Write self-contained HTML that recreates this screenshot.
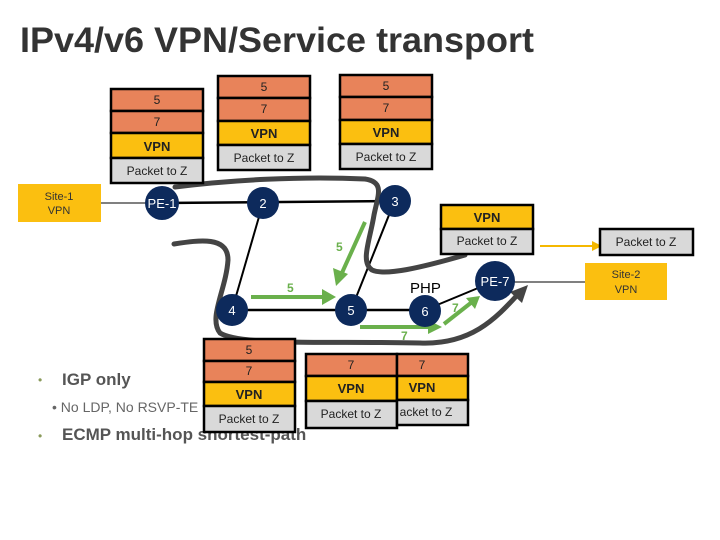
<!DOCTYPE html>
<html><head><style>body{margin:0;background:#fff}svg{display:block}</style></head><body>
<svg width="720" height="540" viewBox="0 0 720 540" font-family="Liberation Sans, Arial, sans-serif">
<rect width="720" height="540" fill="#fff"/>
<text x="20" y="52" font-size="35" font-weight="bold" fill="#333" textLength="514" lengthAdjust="spacingAndGlyphs">IPv4/v6 VPN/Service transport</text>

<!-- bullets -->
<text x="38" y="384" font-size="12" fill="#8a9a5b">•</text>
<text x="62" y="385" font-size="17" font-weight="bold" fill="#555">IGP only</text>
<text x="52" y="412" font-size="14" fill="#666">• No LDP, No RSVP-TE</text>
<text x="38" y="440" font-size="12" fill="#8a9a5b">•</text>
<text x="62" y="440" font-size="17" font-weight="bold" fill="#555">ECMP multi-hop shortest-path</text>

<!-- links -->
<g stroke="#000">
<line x1="101" y1="203" x2="150" y2="203" stroke-width="1"/>
<line x1="162" y1="203" x2="395" y2="201" stroke-width="2.5"/>
<line x1="263" y1="203" x2="232" y2="310" stroke-width="2"/>
<line x1="395" y1="200" x2="351" y2="310" stroke-width="2"/>
<line x1="232" y1="310" x2="425" y2="310" stroke-width="2.5"/>
<line x1="425" y1="310" x2="495" y2="281" stroke-width="2"/>
<line x1="510" y1="282" x2="585" y2="282" stroke-width="1"/>
</g>

<!-- gray paths -->
<g fill="none" stroke="#444" stroke-width="5" stroke-linecap="round">
<path d="M175 187 C230 180 300 176 365 179 C385 182 378 195 374 215 C370 240 360 262 372 270 C385 276 420 268 465 255"/>
<path d="M174 244 C200 240 228 236 228 260 C226 290 208 318 220 333 C240 346 330 341 420 343 C470 345 495 320 520 292"/>
</g>
<polygon points="528,285 510,292 522,303" fill="#444"/>

<!-- green arrows -->
<g stroke="#6ab04c" stroke-width="4" fill="none">
<line x1="365" y1="222" x2="341" y2="275"/>
<line x1="251" y1="297" x2="324" y2="297"/>
<line x1="360" y1="327" x2="430" y2="327"/>
<line x1="444" y1="324" x2="472" y2="302"/>
</g>
<g fill="#6ab04c">
<polygon points="336,286 333,268 348,274"/>
<polygon points="336,297 322,289 322,305"/>
<polygon points="442,327 428,320 428,334"/>
<polygon points="480,296 466,298 475,309"/>
</g>
<g fill="#6ab04c" font-size="12" font-weight="bold">
<text x="336" y="251">5</text>
<text x="287" y="292">5</text>
<text x="401" y="340">7</text>
<text x="452" y="312">7</text>
</g>

<!-- yellow arrow -->
<line x1="540" y1="246" x2="593" y2="246" stroke="#f5b800" stroke-width="2"/>
<polygon points="602,246 592,241 592,251" fill="#f5b800"/>

<!-- nodes -->
<g fill="#0d2a5c">
<circle cx="162" cy="203" r="17"/>
<circle cx="263" cy="203" r="16"/>
<circle cx="395" cy="201" r="16"/>
<circle cx="232" cy="310" r="16"/>
<circle cx="351" cy="310" r="16"/>
<circle cx="425" cy="311" r="16"/>
<circle cx="495" cy="281" r="20"/>
</g>
<g fill="#fff" font-size="13" text-anchor="middle">
<text x="162" y="208">PE-1</text>
<text x="263" y="208">2</text>
<text x="395" y="206">3</text>
<text x="232" y="315">4</text>
<text x="351" y="315">5</text>
<text x="425" y="316">6</text>
<text x="495" y="286">PE-7</text>
</g>
<text x="410" y="293" font-size="15" fill="#000">PHP</text>

<!-- sites -->
<rect x="18" y="184" width="83" height="38" fill="#fbbf10"/>
<text x="59" y="200" font-size="11" text-anchor="middle" fill="#333">Site-1</text>
<text x="59" y="214" font-size="11" text-anchor="middle" fill="#333">VPN</text>
<rect x="585" y="263" width="82" height="37" fill="#fbbf10"/>
<text x="626" y="278" font-size="11" text-anchor="middle" fill="#333">Site-2</text>
<text x="626" y="293" font-size="11" text-anchor="middle" fill="#333">VPN</text>

<!-- stacks -->
<g stroke="#000" stroke-width="2.5">
<!-- stack1 -->
<rect x="111" y="89" width="92" height="22" fill="#e8835a"/>
<rect x="111" y="111" width="92" height="22" fill="#e8835a"/>
<rect x="111" y="133" width="92" height="25" fill="#fbbf10"/>
<rect x="111" y="158" width="92" height="25" fill="#d9d9d9"/>
<!-- stack2 -->
<rect x="218" y="76" width="92" height="22" fill="#e8835a"/>
<rect x="218" y="98" width="92" height="23" fill="#e8835a"/>
<rect x="218" y="121" width="92" height="24" fill="#fbbf10"/>
<rect x="218" y="145" width="92" height="25" fill="#d9d9d9"/>
<!-- stack3 -->
<rect x="340" y="75" width="92" height="22" fill="#e8835a"/>
<rect x="340" y="97" width="92" height="23" fill="#e8835a"/>
<rect x="340" y="120" width="92" height="24" fill="#fbbf10"/>
<rect x="340" y="144" width="92" height="25" fill="#d9d9d9"/>
<!-- right -->
<rect x="441" y="205" width="92" height="24" fill="#fbbf10"/>
<rect x="441" y="229" width="92" height="25" fill="#d9d9d9"/>
<rect x="600" y="229" width="93" height="26" fill="#d9d9d9"/>
<!-- bottom1 -->
<rect x="204" y="339" width="91" height="22" fill="#e8835a"/>
<rect x="204" y="361" width="91" height="21" fill="#e8835a"/>
<rect x="204" y="382" width="91" height="24" fill="#fbbf10"/>
<rect x="204" y="406" width="91" height="26" fill="#d9d9d9"/>
<!-- bottom2 -->
<rect x="306" y="354" width="91" height="22" fill="#e8835a"/>
<rect x="306" y="376" width="91" height="25" fill="#fbbf10"/>
<rect x="306" y="401" width="91" height="27" fill="#d9d9d9"/>
<rect x="397" y="354" width="71" height="22" fill="#e8835a"/>
<rect x="397" y="376" width="71" height="24" fill="#fbbf10"/>
<rect x="397" y="400" width="71" height="25" fill="#d9d9d9"/>
</g>
<g font-size="12" text-anchor="middle" fill="#222">
<text x="157" y="104">5</text><text x="157" y="126">7</text>
<text x="157" y="151" font-weight="bold" font-size="13">VPN</text><text x="157" y="175">Packet to Z</text>
<text x="264" y="91">5</text><text x="264" y="113">7</text>
<text x="264" y="138" font-weight="bold" font-size="13">VPN</text><text x="264" y="162">Packet to Z</text>
<text x="386" y="90">5</text><text x="386" y="112">7</text>
<text x="386" y="137" font-weight="bold" font-size="13">VPN</text><text x="386" y="161">Packet to Z</text>
<text x="487" y="222" font-weight="bold" font-size="13">VPN</text><text x="487" y="245">Packet to Z</text>
<text x="646" y="246">Packet to Z</text>
<text x="249" y="354">5</text><text x="249" y="375">7</text>
<text x="249" y="399" font-weight="bold" font-size="13">VPN</text><text x="249" y="423">Packet to Z</text>
<text x="351" y="369">7</text><text x="351" y="393" font-weight="bold" font-size="13">VPN</text><text x="351" y="418">Packet to Z</text>
<text x="422" y="369">7</text><text x="422" y="392" font-weight="bold" font-size="13">VPN</text><text x="426" y="416">acket to Z</text>
</g>
</svg>
</body></html>
